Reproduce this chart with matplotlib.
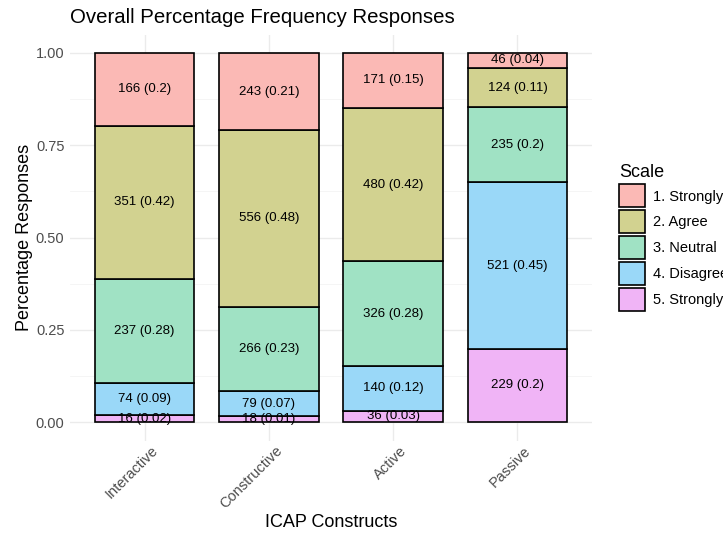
import matplotlib.pyplot as plt
from matplotlib.patches import Patch
from matplotlib.ticker import MultipleLocator
import matplotlib.transforms as mtransforms

plt.rcParams['font.family'] = ['Liberation Sans', 'DejaVu Sans']

constructs = ['Interactive', 'Constructive', 'Active', 'Passive']
scale = ['1. Strongly Agree', '2. Agree', '3. Neutral', '4. Disagree', '5. Strongly Disagree']
# ggplot hue colours as they appear with alpha on white
colors = ['#FBB9B5', '#D2D290', '#A0E2C4', '#9AD8F8', '#F0B4F6']

# counts per scale level, one list per level (order follows constructs)
strongly_agree = [166, 243, 171, 46]
agree = [351, 556, 480, 124]
neutral = [237, 266, 326, 235]
disagree = [74, 79, 140, 521]
strongly_disagree = [16, 18, 36, 229]
counts = [strongly_agree, agree, neutral, disagree, strongly_disagree]

# proportions as printed in the labels
prop_labels = [
    ['0.2', '0.21', '0.15', '0.04'],
    ['0.42', '0.48', '0.42', '0.11'],
    ['0.28', '0.23', '0.28', '0.2'],
    ['0.09', '0.07', '0.12', '0.45'],
    ['0.02', '0.01', '0.03', '0.2'],
]

fig = plt.figure(figsize=(7.23, 5.33), dpi=100)
ax = fig.add_axes([0.0968, 0.1735, 0.722, 0.7617])

x = range(len(constructs))
totals = [sum(c[i] for c in counts) for i in x]

# stack from level 5 at the bottom up to level 1
bottom = [0.0] * len(constructs)
for lvl in reversed(range(len(scale))):
    h = [counts[lvl][i] / totals[i] for i in x]
    ax.bar(x, h, 0.8, bottom=bottom, color=colors[lvl],
           edgecolor='black', linewidth=1.2, zorder=2)
    for i in x:
        ax.text(i, bottom[i] + h[i] / 2, '%d (%s)' % (counts[lvl][i], prop_labels[lvl][i]),
                ha='center', va='center', fontsize=9.5, zorder=4)
    bottom = [bottom[i] + h[i] for i in x]

ax.set_xlim(-0.6, 3.6)
ax.set_ylim(-0.05, 1.05)
ax.set_xticks(list(x))
ax.set_xticklabels([])
# rotated category labels, nudged right like ggplot's hjust=1
shift = mtransforms.ScaledTranslation(16 / 100, -3 / 100, fig.dpi_scale_trans)
for i, name in enumerate(constructs):
    ax.text(i, 0, name, rotation=45, ha='right', va='top', color='#4D4D4D',
            fontsize=10.5, transform=ax.get_xaxis_transform() + shift)
ax.yaxis.set_major_locator(MultipleLocator(0.25))
ax.yaxis.set_minor_locator(MultipleLocator(0.125))
ax.yaxis.set_major_formatter(plt.FuncFormatter(lambda v, p: '%.2f' % v))
ax.yaxis.set_minor_formatter(plt.NullFormatter())
ax.tick_params(axis='y', which='both', length=0, pad=4, labelcolor='#4D4D4D', labelsize=10.5)
ax.tick_params(axis='x', which='both', length=0)
ax.grid(which='major', color='#EBEBEB', linewidth=1.0, zorder=0)
ax.grid(which='minor', axis='y', color='#F4F4F4', linewidth=0.6, zorder=0)
ax.set_axisbelow(True)
for s in ax.spines.values():
    s.set_visible(False)

ax.set_xlabel('ICAP Constructs', fontsize=13)
ax.xaxis.set_label_coords(0.5, -0.18)
ax.set_ylabel('Percentage Responses', fontsize=13, labelpad=2)
ax.set_title('Overall Percentage Frequency Responses', fontsize=14.7, loc='left', pad=8)

handles = [Patch(facecolor=c, edgecolor='black', linewidth=1.2) for c in colors]
fig.legend(handles, scale, loc='upper left', bbox_to_anchor=(0.838, 0.716),
           frameon=False, title='Scale', title_fontsize=13, fontsize=10.5,
           handlelength=1.75, handleheight=2.05, labelspacing=0.2, handletextpad=0.6,
           alignment='left')

fig.savefig('out.png', dpi=100)
